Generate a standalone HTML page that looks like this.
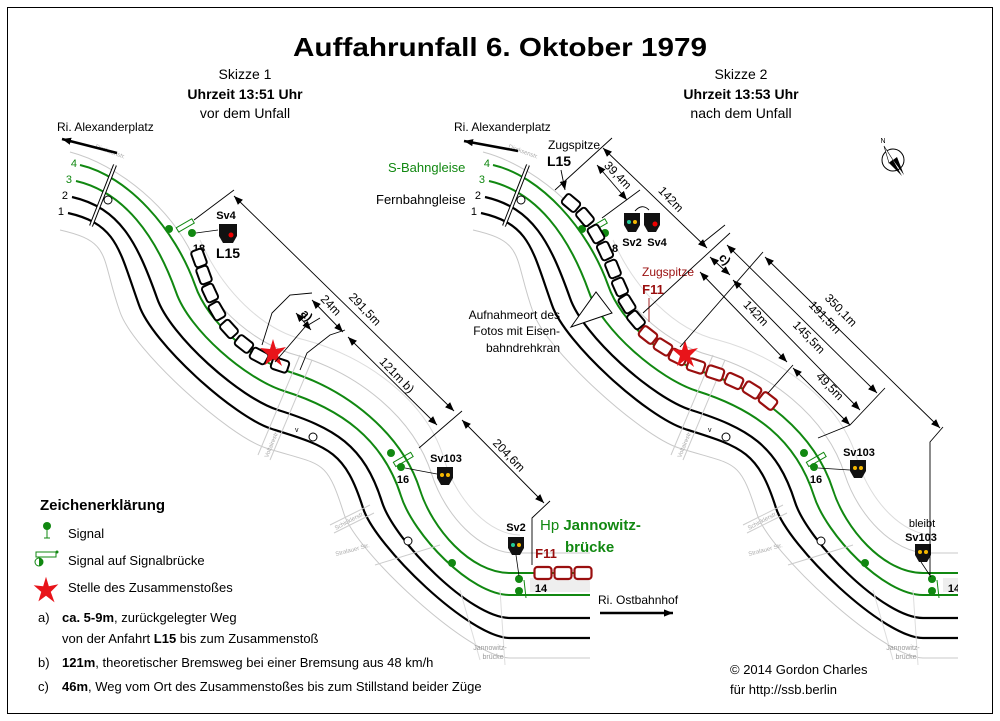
<!DOCTYPE html>
<html><head><meta charset="utf-8"><style>
html,body{margin:0;padding:0;background:#fff}
svg{display:block}
text{font-family:"Liberation Sans",sans-serif}
</style></head><body>
<svg width="1000" height="721" viewBox="0 0 1000 721" xmlns="http://www.w3.org/2000/svg">
<defs>
<marker id="ar" viewBox="0 0 10 10" refX="10" refY="5" markerWidth="9" markerHeight="9" orient="auto-start-reverse" markerUnits="userSpaceOnUse"><path d="M0,1 L10,5 L0,9 z" fill="#000"/></marker>
<clipPath id="c2"><rect x="0" y="0" width="545" height="721"/></clipPath>
<g id="tracks">
 <path d="M70,152 C116,164 175,207 199,270 C214,310 258,345 296,355 C355,372 413,415 432,475 C445,515 480,553 515,553 L590,553" fill="none" stroke="#c8c8c8" stroke-width="1"/>
 <path d="M200,240 C222,290 262,330 305,340 C365,356 428,400 445,462 C458,502 490,535 520,535" fill="none" stroke="#dcdcdc" stroke-width="1"/>
 <path d="M80,165 C128,176 175,229 195,285 C208,323 252,360 290,372 C347,390 402,433 420,490 C432,528 470,573 510,573 L590,573" fill="none" stroke="#118811" stroke-width="2"/>
 <path d="M76,181 C124,192 156,236 176,292 C189,330 246,379 284,391 C341,409 383,439 401,496 C413,534 470,595 510,595 L590,595" fill="none" stroke="#118811" stroke-width="2"/>
 <path d="M72,197 C120,208 137,242 157,298 C170,336 240,398 278,410 C335,428 364,445 382,502 C394,540 470,618 510,618 L590,618" fill="none" stroke="#000" stroke-width="2.2"/>
 <path d="M68,213 C117,224 119,249 139,305 C152,343 234,417 272,429 C329,447 345,451 363,508 C375,546 470,638 510,638 L590,638" fill="none" stroke="#000" stroke-width="2.2"/>
 <path d="M60,230 C113,242 100,256 120,312 C133,350 228,436 266,448 C323,466 326,457 344,514 C356,552 470,658 510,658 L590,658" fill="none" stroke="#c8c8c8" stroke-width="1"/>
 <line x1="115" y1="165" x2="91" y2="226" stroke="#000" stroke-width="4"/>
 <line x1="115" y1="165" x2="91" y2="226" stroke="#fff" stroke-width="2"/>
 <circle cx="108" cy="200" r="4" fill="#fff" stroke="#000" stroke-width="1"/>
 <text x="95" y="148" font-size="6" fill="#aaa" transform="rotate(20 95 148)">Dircksenstr.</text>
 <line x1="258" y1="455" x2="300" y2="355" stroke="#ccc" stroke-width="1"/>
 <line x1="270" y1="460" x2="312" y2="360" stroke="#ccc" stroke-width="1"/>
 <text x="268" y="458" font-size="6" fill="#aaa" transform="rotate(-68 268 458)">Voltairestr.</text>
 <circle cx="313" cy="437" r="4" fill="#fff" stroke="#000"/>
 <text x="295" y="432" font-size="7">v</text>
 <line x1="330" y1="525" x2="370" y2="505" stroke="#ccc"/>
 <line x1="334" y1="533" x2="374" y2="513" stroke="#ccc"/>
 <text x="336" y="530" font-size="6" fill="#aaa" transform="rotate(-28 336 530)">Schicklerstr.</text>
 <text x="336" y="556" font-size="6" fill="#aaa" transform="rotate(-15 336 556)">Stralauer Str.</text>
 <line x1="375" y1="565" x2="440" y2="545" stroke="#ccc"/>
 <circle cx="408" cy="541" r="4" fill="#fff" stroke="#000"/>
 <line x1="460" y1="590" x2="480" y2="660" stroke="#ddd"/>
 <line x1="500" y1="590" x2="505" y2="665" stroke="#ddd"/>
 <rect x="530" y="578" width="60" height="14" fill="#eee"/>
 <g fill="#118811">
  <circle cx="169" cy="229" r="4"/><circle cx="192" cy="233" r="4"/>
  <circle cx="391" cy="453" r="4"/><circle cx="401" cy="467" r="4"/>
  <circle cx="452" cy="563" r="4"/>
  <circle cx="519" cy="579" r="4"/><circle cx="519" cy="591" r="4"/>
 </g>
 <rect x="176" y="223" width="18" height="5" fill="none" stroke="#118811" transform="rotate(-30 185 225)"/>
 <rect x="393" y="457" width="20" height="5" fill="none" stroke="#118811" transform="rotate(-30 403 459)"/>
 <text x="199" y="252" font-size="11" font-weight="bold" text-anchor="middle">18</text>
 <text x="403" y="483" font-size="11" font-weight="bold" text-anchor="middle">16</text>
 <text x="541" y="592" font-size="11" font-weight="bold" text-anchor="middle">14</text>
 <line x1="524" y1="580" x2="526" y2="598" stroke="#118811"/>
 <text x="490" y="650" font-size="7" fill="#999" text-anchor="middle">Jannowitz-</text>
 <text x="493" y="659" font-size="7" fill="#999" text-anchor="middle">brücke</text>
</g>
<g id="car"><rect x="-8.5" y="-6" width="17" height="12" rx="3" fill="#fff" stroke="#000" stroke-width="2"/></g>
<g id="rcar"><rect x="-8.5" y="-6" width="17" height="12" rx="3" fill="#fff" stroke="#9a0f0f" stroke-width="2.2"/></g>
<path id="star" d="M0,-14 L3,-4 L13,-6 L5,2 L9,13 L0,6 L-8,12 L-5,2 L-13,-5 L-3,-4 z" fill="#e8141a"/>
</defs>

<rect x="7.5" y="7.5" width="985" height="706" fill="none" stroke="#000" stroke-width="1"/>

<text x="500" y="56" font-size="26" font-weight="bold" text-anchor="middle" textLength="414" lengthAdjust="spacingAndGlyphs">Auffahrunfall 6. Oktober 1979</text>
<g font-size="14" text-anchor="middle">
<text x="245" y="79">Skizze 1</text>
<text x="245" y="99" font-weight="bold">Uhrzeit 13:51 Uhr</text>
<text x="245" y="118">vor dem Unfall</text>
<text x="741" y="79">Skizze 2</text>
<text x="741" y="99" font-weight="bold">Uhrzeit 13:53 Uhr</text>
<text x="741" y="118">nach dem Unfall</text>
</g>

<use href="#tracks"/>
<text x="57" y="131" font-size="12">Ri. Alexanderplatz</text>
<line x1="117" y1="153" x2="62" y2="139" stroke="#000" stroke-width="2.5" marker-end="url(#ar)"/>
<g font-size="11" text-anchor="end"><text x="77" y="167" fill="#118811">4</text><text x="72" y="183" fill="#118811">3</text><text x="68" y="199">2</text><text x="64" y="215">1</text></g>
<use href="#car" transform="translate(199,258) rotate(70)"/>
<use href="#car" transform="translate(204,275) rotate(70)"/>
<use href="#car" transform="translate(210,293) rotate(65)"/>
<use href="#car" transform="translate(217,311) rotate(60)"/>
<use href="#car" transform="translate(229,329) rotate(48)"/>
<use href="#car" transform="translate(244,344) rotate(38)"/>
<use href="#car" transform="translate(259,356) rotate(28)"/>
<use href="#car" transform="translate(280,365) rotate(18)"/>
<use href="#star" transform="translate(273,353)"/>
<use href="#rcar" transform="translate(543,573)"/>
<use href="#rcar" transform="translate(563,573)"/>
<use href="#rcar" transform="translate(583,573)"/>
<path d="M219,224 h18 v12 l-4,7 h-10 l-4,-7 z" fill="#111"/><circle cx="231" cy="235" r="2.5" fill="#e00"/>
<text x="226" y="219" font-size="11" font-weight="bold" text-anchor="middle">Sv4</text>
<text x="228" y="258" font-size="14" font-weight="bold" text-anchor="middle">L15</text>
<line x1="196" y1="233" x2="218" y2="230" stroke="#000" stroke-width="0.8"/>
<path d="M437,467 h16 v11 l-4,7 h-8 l-4,-7 z" fill="#111"/><circle cx="442" cy="475" r="2" fill="#f5b800"/><circle cx="448" cy="475" r="2" fill="#f5b800"/>
<text x="446" y="462" font-size="11" font-weight="bold" text-anchor="middle">Sv103</text>
<line x1="405" y1="468" x2="437" y2="474" stroke="#000" stroke-width="0.8"/>
<path d="M508,537 h16 v11 l-4,7 h-8 l-4,-7 z" fill="#111"/><circle cx="513" cy="545" r="2" fill="#2c9"/><circle cx="519" cy="545" r="2" fill="#f5b800"/>
<text x="516" y="531" font-size="11" font-weight="bold" text-anchor="middle">Sv2</text>
<line x1="516" y1="555" x2="519" y2="576" stroke="#000" stroke-width="0.8"/>
<text x="546" y="558" font-size="13" font-weight="bold" fill="#9a0f0f" text-anchor="middle">F11</text>
<text x="540" y="530" font-size="15" fill="#118811">Hp <tspan font-weight="bold">Jannowitz-</tspan></text>
<text x="565" y="552" font-size="15" fill="#118811" font-weight="bold">brücke</text>
<g stroke="#000" stroke-width="0.9" fill="none">
<polyline points="194,220 234,190"/>
<line x1="234" y1="196" x2="454" y2="411" marker-start="url(#ar)" marker-end="url(#ar)"/>
<line x1="312" y1="300" x2="343" y2="332" marker-start="url(#ar)" marker-end="url(#ar)"/>
<line x1="296" y1="313" x2="311" y2="330" marker-start="url(#ar)" marker-end="url(#ar)"/>
<line x1="348" y1="337" x2="437" y2="425" marker-start="url(#ar)" marker-end="url(#ar)"/>
<line x1="462" y1="420" x2="544" y2="503" marker-start="url(#ar)" marker-end="url(#ar)"/>
<polyline points="262,345 272,313 290,295 312,293"/>
<polyline points="275,362 305,327 320,318"/>
<polyline points="300,370 307,353 330,335 345,330"/>
<polyline points="419,448 462,411"/>
<polyline points="532,565 532,518 550,501"/>
</g>
<g font-size="12">
<text transform="translate(362,312) rotate(46)" text-anchor="middle">291,5m</text>
<text transform="translate(328,308) rotate(46)" text-anchor="middle">24m</text>
<text transform="translate(304,318) rotate(46)" text-anchor="middle" font-weight="bold">a)</text>
<text transform="translate(394,378) rotate(46)" text-anchor="middle">121m b)</text>
<text transform="translate(506,458) rotate(46)" text-anchor="middle">204,6m</text>
</g>

<g transform="translate(413,0)" clip-path="url(#c2)"><use href="#tracks"/></g>
<text x="454" y="131" font-size="12">Ri. Alexanderplatz</text>
<line x1="518" y1="151" x2="464" y2="141" stroke="#000" stroke-width="2.5" marker-end="url(#ar)"/>
<g font-size="11" text-anchor="end"><text x="490" y="167" fill="#118811">4</text><text x="485" y="183" fill="#118811">3</text><text x="481" y="199">2</text><text x="477" y="215">1</text></g>
<text x="388" y="172" font-size="13" fill="#118811">S-Bahngleise</text>
<text x="376" y="204" font-size="13">Fernbahngleise</text>
<text x="574" y="149" font-size="12" text-anchor="middle">Zugspitze</text>
<text x="559" y="166" font-size="14" font-weight="bold" text-anchor="middle">L15</text>
<line x1="561" y1="170" x2="565" y2="190" stroke="#000" stroke-width="0.9" marker-end="url(#ar)"/>
<g font-size="12" text-anchor="end">
<text x="560" y="319">Aufnahmeort des</text>
<text x="560" y="335">Fotos mit Eisen-</text>
<text x="560" y="352">bahndrehkran</text>
</g>
<polygon points="571,327 596,292 612,313" fill="#fff" stroke="#000" stroke-width="1"/>
<use href="#car" transform="translate(571,203) rotate(40)"/>
<use href="#car" transform="translate(585,217) rotate(50)"/>
<use href="#car" transform="translate(596,234) rotate(60)"/>
<use href="#car" transform="translate(605,251) rotate(65)"/>
<use href="#car" transform="translate(613,269) rotate(68)"/>
<use href="#car" transform="translate(620,287) rotate(66)"/>
<use href="#car" transform="translate(627,304) rotate(58)"/>
<use href="#car" transform="translate(636,320) rotate(50)"/>
<use href="#rcar" transform="translate(648,335) rotate(38)"/>
<use href="#rcar" transform="translate(663,347) rotate(32)"/>
<use href="#rcar" transform="translate(678,357) rotate(26)"/>
<use href="#rcar" transform="translate(696,366) rotate(18)"/>
<use href="#rcar" transform="translate(715,373) rotate(18)"/>
<use href="#rcar" transform="translate(734,381) rotate(24)"/>
<use href="#rcar" transform="translate(752,390) rotate(32)"/>
<use href="#rcar" transform="translate(768,401) rotate(38)"/>
<use href="#star" transform="translate(685,354)"/>
<path d="M624,213 h16 v12 l-4,7 h-8 l-4,-7 z" fill="#111"/><circle cx="629" cy="222" r="2" fill="#2c9"/><circle cx="635" cy="222" r="2" fill="#f5b800"/>
<path d="M644,213 h16 v12 l-4,7 h-8 l-4,-7 z" fill="#111"/><circle cx="655" cy="224" r="2.5" fill="#e00"/>
<path d="M635,211 Q642,203 649,210" fill="none" stroke="#000" stroke-width="0.9"/>
<text x="632" y="246" font-size="11" font-weight="bold" text-anchor="middle">Sv2</text>
<text x="657" y="246" font-size="11" font-weight="bold" text-anchor="middle">Sv4</text>
<text x="668" y="276" font-size="12" fill="#9a0f0f" text-anchor="middle">Zugspitze</text>
<text x="653" y="294" font-size="13" font-weight="bold" fill="#9a0f0f" text-anchor="middle">F11</text>
<line x1="649" y1="298" x2="649" y2="322" stroke="#9a0f0f" stroke-width="0.9"/>
<path d="M850,460 h16 v11 l-4,7 h-8 l-4,-7 z" fill="#111"/><circle cx="855" cy="468" r="2" fill="#f5b800"/><circle cx="861" cy="468" r="2" fill="#f5b800"/>
<text x="859" y="456" font-size="11" font-weight="bold" text-anchor="middle">Sv103</text>
<line x1="818" y1="468" x2="850" y2="470" stroke="#000" stroke-width="0.8"/>
<text x="922" y="527" font-size="11" text-anchor="middle">bleibt</text>
<text x="921" y="541" font-size="11" font-weight="bold" text-anchor="middle">Sv103</text>
<path d="M915,544 h16 v11 l-4,7 h-8 l-4,-7 z" fill="#111"/><circle cx="920" cy="552" r="2" fill="#f5b800"/><circle cx="926" cy="552" r="2" fill="#f5b800"/>
<line x1="921" y1="562" x2="931" y2="577" stroke="#000" stroke-width="0.8"/>
<g stroke="#000" stroke-width="0.9" fill="none">
<polyline points="555,190 612,138"/>
<line x1="597" y1="165" x2="627" y2="200" marker-start="url(#ar)" marker-end="url(#ar)"/>
<line x1="603" y1="148" x2="707" y2="248" marker-start="url(#ar)" marker-end="url(#ar)"/>
<polyline points="602,218 640,190"/>
<line x1="710" y1="257" x2="730" y2="275" marker-start="url(#ar)" marker-end="url(#ar)"/>
<line x1="700" y1="272" x2="787" y2="362" marker-start="url(#ar)" marker-end="url(#ar)"/>
<line x1="733" y1="280" x2="860" y2="410" marker-start="url(#ar)" marker-end="url(#ar)"/>
<line x1="727" y1="245" x2="877" y2="393" marker-start="url(#ar)" marker-end="url(#ar)"/>
<line x1="765" y1="257" x2="940" y2="428" marker-start="url(#ar)" marker-end="url(#ar)"/>
<line x1="793" y1="368" x2="850" y2="425" marker-start="url(#ar)" marker-end="url(#ar)"/>
<polyline points="643,313 730,233"/>
<polyline points="680,347 763,252"/>
<polyline points="700,245 725,225"/>
<polyline points="768,393 793,365"/>
<polyline points="818,438 850,425 885,388"/>
<polyline points="930,575 930,442 943,427"/>
</g>
<g font-size="12">
<text transform="translate(615,178) rotate(46)" text-anchor="middle">39,4m</text>
<text transform="translate(668,202) rotate(46)" text-anchor="middle">142m</text>
<text transform="translate(722,262) rotate(46)" text-anchor="middle" font-weight="bold">c)</text>
<text transform="translate(753,316) rotate(46)" text-anchor="middle">142m</text>
<text transform="translate(806,340) rotate(46)" text-anchor="middle">145,5m</text>
<text transform="translate(822,320) rotate(46)" text-anchor="middle">191,5m</text>
<text transform="translate(838,313) rotate(46)" text-anchor="middle">350,1m</text>
<text transform="translate(827,389) rotate(46)" text-anchor="middle">49,5m</text>
</g>
<circle cx="893" cy="160" r="11" fill="none" stroke="#000" stroke-width="1"/>
<polygon points="893,160 889,163 902,176" fill="#000"/>
<polygon points="893,160 897,157 904,175" fill="#000"/>
<polygon points="893,160 889,163 884,146" fill="#fff" stroke="#000" stroke-width="0.6"/>
<text x="883" y="143" font-size="7" text-anchor="middle">N</text>
<text x="598" y="604" font-size="12">Ri. Ostbahnhof</text>
<line x1="600" y1="613" x2="673" y2="613" stroke="#000" stroke-width="2.5" marker-end="url(#ar)"/>

<text x="40" y="510" font-size="15" font-weight="bold">Zeichenerklärung</text>
<circle cx="47" cy="526" r="4" fill="#118811"/><line x1="47" y1="526" x2="47" y2="538" stroke="#118811"/><line x1="44" y1="538" x2="50" y2="538" stroke="#118811"/>
<rect x="36" y="552" width="20" height="5" fill="none" stroke="#118811"/><circle cx="57" cy="552" r="1.5" fill="#118811"/><circle cx="39" cy="562" r="4" fill="none" stroke="#118811"/><path d="M39,558 a4,4 0 0 1 0,8z" fill="#118811"/>
<use href="#star" transform="translate(46,590) scale(0.95)"/>
<g font-size="13">
<text x="68" y="538">Signal</text>
<text x="68" y="565">Signal auf Signalbrücke</text>
<text x="68" y="592">Stelle des Zusammenstoßes</text>
<text x="38" y="622">a)</text>
<text x="62" y="622"><tspan font-weight="bold">ca. 5-9m</tspan>, zurückgelegter Weg</text>
<text x="62" y="643">von der Anfahrt <tspan font-weight="bold">L15</tspan> bis zum Zusammenstoß</text>
<text x="38" y="667">b)</text>
<text x="62" y="667"><tspan font-weight="bold">121m</tspan>, theoretischer Bremsweg bei einer Bremsung aus 48 km/h</text>
<text x="38" y="691">c)</text>
<text x="62" y="691"><tspan font-weight="bold">46m</tspan>, Weg vom Ort des Zusammenstoßes bis zum Stillstand beider Züge</text>
<text x="730" y="674">© 2014 Gordon Charles</text>
<text x="730" y="694">für http://ssb.berlin</text>
</g>
</svg>
</body></html>
